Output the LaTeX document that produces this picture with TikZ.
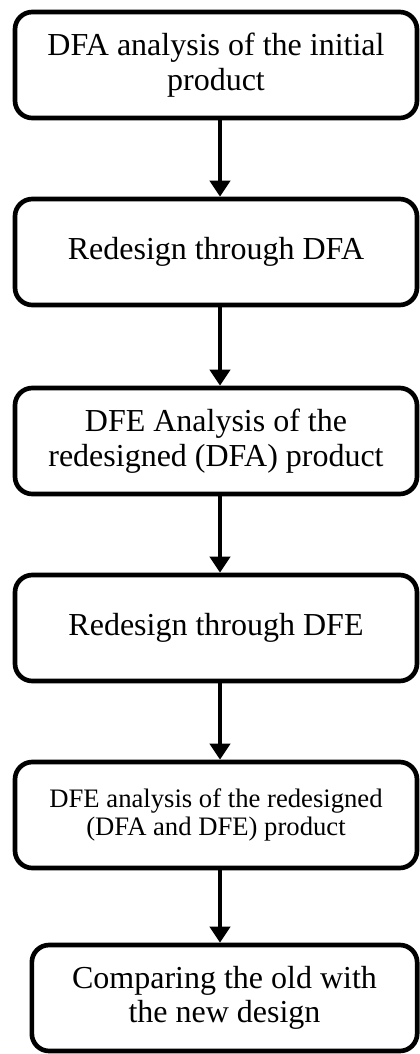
\documentclass[tikz,border=0pt]{standalone}
\usepackage{fontspec}
\setmainfont{Liberation Serif}
\usetikzlibrary{arrows.meta}
\begin{document}
\begin{tikzpicture}[x=0.75pt, y=-0.75pt,
        stepbox/.style={draw, line width=3.5pt, rounded corners=13pt, align=center,
            minimum width=301.5pt, minimum height=79.5pt, inner sep=0pt,
            font=\fontsize{24}{26}\selectfont},
        flow/.style={line width=3pt, -{Triangle[width=15pt, length=12pt]}}]
            \useasboundingbox (0,0) rectangle (420,1054);
            \node[stepbox] (b1) at (216, 65) {DFA analysis of the initial\\product};
            \node[stepbox] (b2) at (216, 252) {Redesign through DFA};
            \node[stepbox] (b3) at (216, 441) {DFE Analysis of the\\redesigned (DFA) product};
            \node[stepbox] (b4) at (216, 628) {Redesign through DFE};
            \node[stepbox, font=\fontsize{20}{21.5}\selectfont] (b5) at (216, 815)
                {DFE analysis of the redesigned\\(DFA and DFE) product};
            \node[stepbox, minimum width=289pt] (b6) at (224.5, 998) {Comparing the old with\\the new design};
            \coordinate (ax) at (220, 0);
            \draw[flow] (b1.south -| ax) -- (b2.north -| ax);
            \draw[flow] (b2.south -| ax) -- (b3.north -| ax);
            \draw[flow] (b3.south -| ax) -- (b4.north -| ax);
            \draw[flow] (b4.south -| ax) -- (b5.north -| ax);
            \draw[flow] (b5.south -| ax) -- (b6.north -| ax);
        \end{tikzpicture}
\end{document}
